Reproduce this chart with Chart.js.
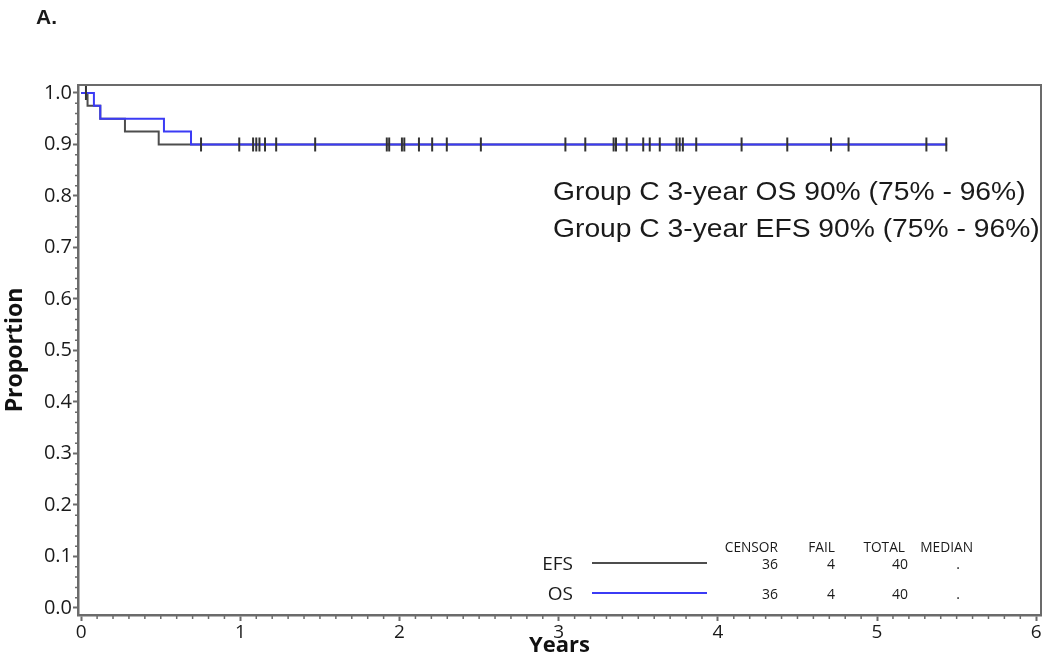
<!DOCTYPE html>
<html>
<head>
<meta charset="utf-8">
<script src="https://cdn.jsdelivr.net/npm/chart.js@4"></script>
<style>
  html, body { margin: 0; padding: 0; background: #fff; }
  #wrap { width: 1050px; height: 659px; position: relative; }
</style>
</head>
<body>
<div id="wrap"><canvas id="kmChart"></canvas></div>
<script>
// Kaplan-Meier steps (years, proportion)
const efsTimes = [0, 0.04, 0.12, 0.275, 0.487, 5.44];
const efsSurv = [1, 0.975, 0.95, 0.925, 0.9, 0.9];
const osTimes = [0, 0.08, 0.12, 0.52, 0.69, 5.44];
const osSurv = [1, 0.975, 0.95, 0.925, 0.9, 0.9];

// censored observations
const censorTimes = [0.03, 0.753, 0.993, 1.08, 1.10, 1.12, 1.155, 1.225, 1.47, 1.92, 1.935, 2.015, 2.03,
    2.122, 2.205, 2.297, 2.511, 3.042, 3.167, 3.345, 3.36, 3.427, 3.531, 3.572, 3.635,
    3.74, 3.76, 3.78, 3.864, 4.149, 4.436, 4.711, 4.821, 5.31, 5.435];
const censorSurv = [1.0, 0.9, 0.9, 0.9, 0.9, 0.9, 0.9, 0.9, 0.9, 0.9, 0.9, 0.9, 0.9,
    0.9, 0.9, 0.9, 0.9, 0.9, 0.9, 0.9, 0.9, 0.9, 0.9, 0.9, 0.9,
    0.9, 0.9, 0.9, 0.9, 0.9, 0.9, 0.9, 0.9, 0.9, 0.9];

const xTicks = [0, 1, 2, 3, 4, 5, 6];
const yTicks = [0, 0.1, 0.2, 0.3, 0.4, 0.5, 0.6, 0.7, 0.8, 0.9, 1.0];

const seriesNames = ['EFS', 'OS'];
const tableHeaders = ['CENSOR', 'FAIL', 'TOTAL', 'MEDIAN'];
const tableRows = [['36', '4', '40', '.'], ['36', '4', '40', '.']];
const noteLines = ['Group C 3-year OS 90% (75% - 96%)', 'Group C 3-year EFS 90% (75% - 96%)'];

const EFS_COLOR = '#4d4d4d';
const OS_COLOR = '#3b3bf5';
const AXIS_COLOR = '#6b6b6b';

const toPts = (xs, ys) => xs.map((x, i) => ({ x: x, y: ys[i] }));

// text helper, source image is stretched a bit horizontally
function txt(ctx, s, x, y, font, align, sx) {
    ctx.save();
    ctx.font = font;
    ctx.fillStyle = '#1a1a1a';
    ctx.textBaseline = 'alphabetic';
    ctx.translate(x, y);
    ctx.scale(sx || 1, 1);
    ctx.textAlign = align || 'left';
    ctx.fillText(s, 0, 0);
    ctx.restore();
}

const decorPlugin = {
    id: 'decor',
    beforeDatasetsDraw(chart) {
        const { ctx, chartArea: a, scales: { x, y } } = chart;
        ctx.save();
        // frame top/right
        ctx.strokeStyle = AXIS_COLOR;
        ctx.lineWidth = 2;
        ctx.beginPath();
        ctx.moveTo(a.left, a.top);
        ctx.lineTo(a.right, a.top);
        ctx.lineTo(a.right, a.bottom);
        ctx.stroke();
        // minor ticks
        ctx.lineWidth = 1.5;
        ctx.beginPath();
        for (let i = 1; i < 60; i++) {
            if (i % 10 === 0) continue;
            const px = x.getPixelForValue(i / 10);
            ctx.moveTo(px, a.bottom);
            ctx.lineTo(px, a.bottom + 4);
        }
        for (let i = 1; i < 50; i++) {
            if (i % 5 === 0) continue;
            const py = y.getPixelForValue(i / 50);
            ctx.moveTo(a.left, py);
            ctx.lineTo(a.left - 3, py);
        }
        ctx.stroke();
        ctx.restore();
    },
    afterDraw(chart) {
        const ctx = chart.ctx;
        txt(ctx, 'A.', 36, 24, 'bold 21px "Liberation Sans", Arial, sans-serif', 'left');

        txt(ctx, noteLines[0], 553, 200, '25px "Liberation Sans", Arial, sans-serif', 'left', 1.13);
        txt(ctx, noteLines[1], 553, 237, '25px "Liberation Sans", Arial, sans-serif', 'left', 1.13);

        // legend table
        const hf = '14px "Open Sans", sans-serif';
        const hx = [778, 835, 905, 973];
        tableHeaders.forEach((h, i) => txt(ctx, h, hx[i], 552, hf, 'right', 0.98));
        const rowY = [569, 599];
        const colors = [EFS_COLOR, OS_COLOR];
        seriesNames.forEach((n, r) => {
            txt(ctx, n, 573, rowY[r] + 1, '19px "Open Sans", sans-serif', 'right');
            ctx.save();
            ctx.strokeStyle = colors[r];
            ctx.lineWidth = 2;
            ctx.beginPath();
            ctx.moveTo(592, rowY[r] - 6);
            ctx.lineTo(707, rowY[r] - 6);
            ctx.stroke();
            ctx.restore();
            const cx = [778, 835, 908, 958];
            tableRows[r].forEach((v, i) => txt(ctx, v, cx[i], rowY[r], hf, i === 3 ? 'center' : 'right'));
        });
    }
};

new Chart(document.getElementById('kmChart'), {
    type: 'scatter',
    data: {
        datasets: [
            {
                label: 'EFS',
                data: toPts(efsTimes, efsSurv),
                showLine: true,
                stepped: 'before',
                borderColor: EFS_COLOR,
                borderWidth: 2,
                pointRadius: 0,
                order: 3
            },
            {
                label: 'OS',
                data: toPts(osTimes, osSurv),
                showLine: true,
                stepped: 'before',
                borderColor: OS_COLOR,
                borderWidth: 2,
                pointRadius: 0,
                order: 2
            },
            {
                label: 'Censored',
                data: toPts(censorTimes, censorSurv),
                showLine: false,
                pointStyle: 'line',
                rotation: 90,
                pointRadius: 7,
                borderColor: '#333',
                borderWidth: 2,
                order: 1
            }
        ]
    },
    options: {
        responsive: true,
        maintainAspectRatio: false,
        animation: false,
        layout: { padding: { top: 85, right: 3, left: 0, bottom: 0 } },
        plugins: { legend: { display: false }, tooltip: { enabled: false } },
        scales: {
            x: {
                type: 'linear',
                min: -0.02,
                max: 6.03,
                afterBuildTicks: s => { s.ticks = xTicks.map(v => ({ value: v })); },
                afterFit: s => { s.height = 44; },
                grid: { drawOnChartArea: false, tickLength: 6, tickColor: AXIS_COLOR, tickWidth: 2 },
                border: { color: AXIS_COLOR, width: 2.5 },
                ticks: { color: '#1a1a1a', font: { size: 19, family: '"Open Sans", sans-serif' }, padding: 0, maxRotation: 0 },
                title: { display: true, text: 'Years', color: '#111', font: { size: 22, weight: 'bold', family: '"Open Sans", sans-serif' }, padding: { top: 0, bottom: 0 } }
            },
            y: {
                min: -0.0136,
                max: 1.0155,
                afterBuildTicks: s => { s.ticks = yTicks.map(v => ({ value: v })); },
                afterFit: s => { s.width = 78; },
                grid: { drawOnChartArea: false, tickLength: 5, tickColor: AXIS_COLOR, tickWidth: 2 },
                border: { color: AXIS_COLOR, width: 2.5 },
                ticks: { color: '#1a1a1a', font: { size: 20, family: '"Open Sans", sans-serif' }, padding: 1, callback: v => v.toFixed(1) },
                title: { display: true, text: 'Proportion', color: '#111', font: { size: 23, weight: 'bold', family: '"Open Sans", sans-serif' }, padding: { top: 2, bottom: 0 } }
            }
        }
    },
    plugins: [decorPlugin]
});
</script>
</body>
</html>
